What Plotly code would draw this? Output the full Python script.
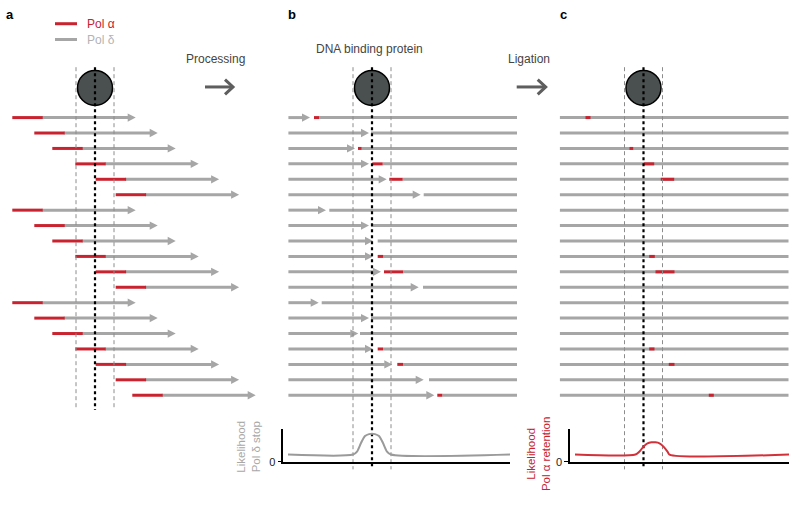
import plotly.graph_objects as go

# ---------------- data (positions relative to the protein centre, in bp-like units) ----
ROW_IDS = list(range(19))

# panel a: Pol alpha primer start of each Okazaki fragment
A_RED_START = [-82.7, -60.7, -42.7, -19.7, 0.7, 20.7,
               -82.7, -60.7, -42.7, -19.7, 0.7, 20.7,
               -82.7, -60.7, -42.7, -19.7, 0.7, 20.7, 37.3]
A_RED_LEN = 30.4      # Pol alpha tract length
A_FRAG_LEN = 123.4    # full fragment length (start to arrow tip)

# panel b: Pol delta stop (arrow tip), retained Pol alpha tract, downstream restart
B_TIP = [-62, -3, -17, -3, 14.7, 48.7, -46, -3, 1, 1, 9, 46.7, -53.3, -3, -13.7, 1, 20.3, 51.7, 62.3]
B_RED_START = [-58, None, -14, 0.3, 17.3, None, None, None, None, 5.7, 12, None, None, None, None, 5.7, 25.3, None, 65.3]
B_RED_END = [-53, None, -10.3, 10.7, 30.7, None, None, None, None, 11.3, 31, None, None, None, None, 11, 31, None, 70.3]
B_RESUME = [None, -1, None, None, None, 51.7, -42.7, -1, 5.7, None, None, 51, -50.3, -1, -12, None, None, 57, None]

# likelihood profiles
LIK_B_X = [-84, -19, -15, -11, -7, -3, 3, 7, 11, 15, 19, 138]
LIK_B_Y = [0.22, 0.22, 0.31, 0.57, 0.78, 0.84, 0.84, 0.78, 0.57, 0.31, 0.22, 0.22]
LIK_C_X = [-68.5, -8, -4, 0, 4, 8, 12, 16, 20, 24, 26, 145.5]
LIK_C_Y = [0.22, 0.22, 0.31, 0.46, 0.56, 0.59, 0.59, 0.56, 0.46, 0.31, 0.22, 0.22]

# ---------------- layout constants ----------------
W, H = 800, 506
ROW_TOP_PX, ROW_STEP_PX = 119.0, 15.61
RED = "#c8232e"
GRAY = "#a6a6a6"
FONT = "Liberation Sans, Arial, Helvetica, sans-serif"
LINE_W = 3
DNA_LEFT, DNA_RIGHT = -83.6, 145.0
BAND = 19
HEAD_L, HEAD_H = 8.0, 4.2 / ROW_STEP_PX


def prow(p):
    return (p - ROW_TOP_PX) / ROW_STEP_PX


def px(x):
    return x / W


def py(y):
    return 1 - y / H


fig = go.Figure()


def seg_trace(xs, ys, color, axis, width=LINE_W, dash=None):
    fig.add_trace(go.Scatter(x=xs, y=ys, mode="lines", xaxis=axis, yaxis="y",
                             line=dict(color=color, width=width, dash=dash),
                             hoverinfo="skip", showlegend=False))


def head_trace(tips, rows, axis):
    xs, ys = [], []
    for t, r in zip(tips, rows):
        xs += [t - HEAD_L, t, t - HEAD_L, t - HEAD_L, None]
        ys += [r - HEAD_H, r, r + HEAD_H, r - HEAD_H, None]
    fig.add_trace(go.Scatter(x=xs, y=ys, mode="lines", fill="toself", fillcolor=GRAY,
                             line=dict(width=0, color=GRAY), xaxis=axis, yaxis="y",
                             hoverinfo="skip", showlegend=False))


circle_row = prow(89)
for ax in ["x", "x2", "x3"]:
    fig.add_trace(go.Scatter(x=[0], y=[circle_row], mode="markers", xaxis=ax, yaxis="y",
                             marker=dict(size=35, color="#4a4f4f", line=dict(color="black", width=1.5)),
                             hoverinfo="skip", showlegend=False))

# ---- panel a
gx, gy, rx, ry = [], [], [], []
for r, s in zip(ROW_IDS, A_RED_START):
    rx += [s, s + A_RED_LEN, None]; ry += [r, r, None]
    gx += [s + A_RED_LEN - 1, s + A_FRAG_LEN - HEAD_L + 0.5, None]; gy += [r, r, None]
seg_trace(gx, gy, GRAY, "x")
head_trace([s + A_FRAG_LEN for s in A_RED_START], ROW_IDS, "x")
seg_trace(rx, ry, RED, "x")

# ---- panel b
gx, gy, rx, ry = [], [], [], []
for r, t, rs, re, rsm in zip(ROW_IDS, B_TIP, B_RED_START, B_RED_END, B_RESUME):
    gx += [DNA_LEFT, t - HEAD_L + 0.5, None]; gy += [r, r, None]
    if rs is not None:
        rx += [rs, re, None]; ry += [r, r, None]
        gx += [re, DNA_RIGHT, None]; gy += [r, r, None]
    else:
        gx += [rsm, DNA_RIGHT, None]; gy += [r, r, None]
seg_trace(gx, gy, GRAY, "x2")
head_trace(B_TIP, ROW_IDS, "x2")
seg_trace(rx, ry, RED, "x2")

# ---- panel c
gx, gy, rx, ry = [], [], [], []
for r, rs, re in zip(ROW_IDS, B_RED_START, B_RED_END):
    gx += [DNA_LEFT, DNA_RIGHT, None]; gy += [r, r, None]
    if rs is not None:
        rx += [rs, re, None]; ry += [r, r, None]
seg_trace(gx, gy, GRAY, "x3")
seg_trace(rx, ry, RED, "x3")

# ---- guide lines
top = prow(68)
for ax, bottom in [("x", prow(415)), ("x2", prow(475)), ("x3", prow(475))]:
    seg_trace([-BAND, -BAND, None, BAND, BAND], [top, bottom, None, top, bottom],
              "#8c8c8c", ax, width=1, dash="4px,3px")
    seg_trace([0, 0], [top, bottom], "black", ax, width=2.2, dash="3px,3px")

# ---- likelihood plots
fig.add_trace(go.Scatter(x=LIK_B_X, y=LIK_B_Y, mode="lines", xaxis="x4", yaxis="y2",
                         line=dict(color="#9a9a9a", width=2, shape="spline", smoothing=0.8),
                         hoverinfo="skip", showlegend=False))
fig.add_trace(go.Scatter(x=LIK_C_X, y=LIK_C_Y, mode="lines", xaxis="x5", yaxis="y3",
                         line=dict(color="#d3313a", width=2, shape="spline", smoothing=0.8),
                         hoverinfo="skip", showlegend=False))

hidden = dict(visible=False, showgrid=False, zeroline=False, fixedrange=True)
lik_x = dict(showline=True, linecolor="black", linewidth=1.5, showgrid=False, zeroline=False,
             showticklabels=False, ticks="", fixedrange=True)
lik_y = dict(showline=True, linecolor="black", linewidth=1.5, showgrid=False, zeroline=False,
             range=[0, 1], tickvals=[0], ticktext=["0"], ticks="outside", ticklen=4,
             tickcolor="black", tickwidth=1, tickfont=dict(size=11, color="#222", family=FONT),
             fixedrange=True)
ydom = [py(467.3), py(434)]

fig.update_layout(
    width=W, height=H, autosize=False,
    margin=dict(l=0, r=0, t=0, b=0),
    paper_bgcolor="white", plot_bgcolor="rgba(0,0,0,0)",
    font=dict(family=FONT, size=12, color="#333"),
    xaxis=dict(domain=[0, 272 / W], range=[-95, 177], anchor="y", **hidden),
    xaxis2=dict(domain=[272 / W, 540 / W], range=[-100, 168], anchor="y", **hidden),
    xaxis3=dict(domain=[540 / W, 1], range=[-103.5, 156.5], anchor="y", **hidden),
    yaxis=dict(domain=[0, 1], range=[prow(H), prow(0)], anchor="x", **hidden),
    xaxis4=dict(domain=[283.3 / W, 510 / W], range=[-88.7, 138], anchor="y2", **lik_x),
    yaxis2=dict(domain=ydom, anchor="x4", **lik_y),
    xaxis5=dict(domain=[570 / W, 789 / W], range=[-73.5, 145.5], anchor="y3", **lik_x),
    yaxis3=dict(domain=ydom, anchor="x5", **lik_y),
)

ann = []


def text(x, y, s, size=12, color="#333", bold=False, xanchor="center", angle=0):
    ann.append(dict(x=px(x), y=py(y), xref="paper", yref="paper", text=f"<b>{s}</b>" if bold else s,
                    showarrow=False, xanchor=xanchor, yanchor="middle", textangle=angle,
                    font=dict(size=size, color=color, family=FONT)))


text(10, 15, "a", size=13, color="black", bold=True)
text(291.7, 15, "b", size=13, color="black", bold=True)
text(563.3, 15, "c", size=13, color="black", bold=True)
text(85, 24, "Pol α", color=RED, xanchor="left")
text(85, 40, "Pol δ", color="#b3b3b3", xanchor="left")
text(215.5, 60, "Processing", color="#444")
text(369.5, 50, "DNA binding protein", color="#444")
text(529, 60, "Ligation", color="#444")
text(249, 452, "Likelihood<br>Pol δ stop", size=11.5, color="#a8a8a8", angle=-90)
text(538.5, 460, "Likelihood<br>Pol α retention", size=11.5, color=RED, angle=-90)
fig.update_layout(annotations=ann)

shapes = []
for y, c in [(24, RED), (40, GRAY)]:
    shapes.append(dict(type="line", xref="paper", yref="paper", x0=px(55), x1=px(77), y0=py(y), y1=py(y),
                       line=dict(color=c, width=3)))
for x0, x1 in [(205, 233), (516.7, 545.7)]:
    shapes.append(dict(type="line", xref="paper", yref="paper", x0=px(x0), x1=px(x1), y0=py(88), y1=py(88),
                       line=dict(color="#5e5e5e", width=3)))
    shapes.append(dict(type="path", xref="paper", yref="paper",
                       path=f"M {px(x1-8)},{py(80.5)} L {px(x1)},{py(88)} L {px(x1-8)},{py(95.5)}",
                       line=dict(color="#5e5e5e", width=3)))
fig.update_layout(shapes=shapes)

fig.write_html("out.html", config={"displayModeBar": False},
               post_script="document.body.style.margin='0';")
